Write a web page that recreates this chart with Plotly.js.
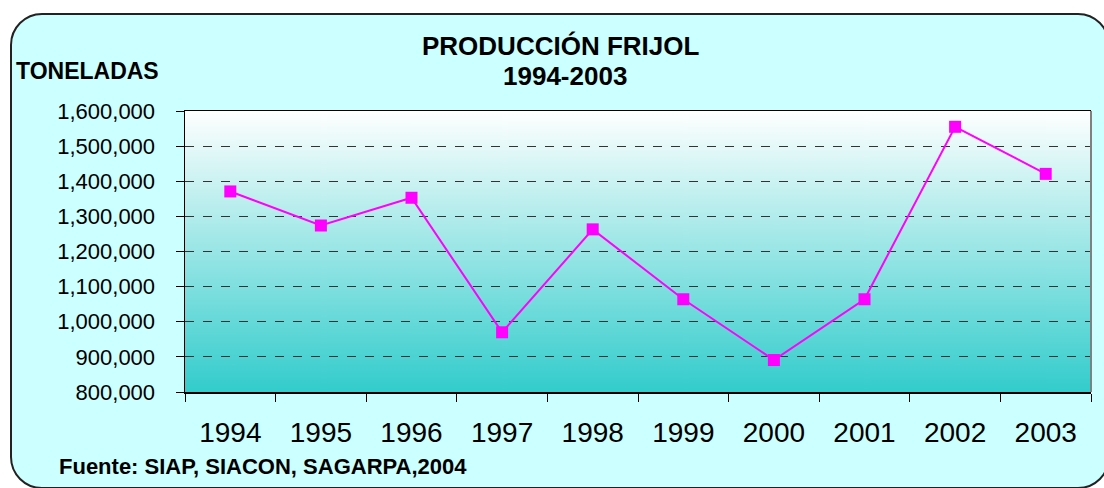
<!DOCTYPE html>
<html>
<head>
<meta charset="utf-8">
<script src="https://cdn.plot.ly/plotly-3.0.1.min.js"></script>
<style>
  html, body { margin: 0; padding: 0; background: #ffffff; width: 1104px; height: 488px; overflow: hidden; }
  #frame { position: absolute; left: 10px; top: 13px; width: 1096px; height: 472px;
           border: 2px solid #222; border-radius: 32px; background: #CCFFFF; }
  #chart { position: absolute; left: 0; top: 0; width: 1104px; height: 488px; }
</style>
</head>
<body>
<div id="frame"></div>
<div id="chart"></div>
<script>
const years = ['1994','1995','1996','1997','1998','1999','2000','2001','2002','2003'];
const toneladas = [1371000, 1274000, 1353000, 970000, 1263000, 1064000, 891000, 1064000, 1555000, 1421000];
const yTickVals = [800000, 900000, 1000000, 1100000, 1200000, 1300000, 1400000, 1500000, 1600000];
const yTickText = ['800,000','900,000','1,000,000','1,100,000','1,200,000','1,300,000','1,400,000','1,500,000','1,600,000'];
const titleLines = ['PRODUCCIÓN FRIJOL', '1994-2003'];
const yLabel = 'TONELADAS';
const sourceNote = 'Fuente: SIAP, SIACON, SAGARPA,2004';

// vertical gradient for plot background
const cv = document.createElement('canvas');
cv.width = 10; cv.height = 300;
const cx = cv.getContext('2d');
const g = cx.createLinearGradient(0, 0, 0, 300);
g.addColorStop(0, '#FFFFFF');
g.addColorStop(1, '#33CCCC');
cx.fillStyle = g; cx.fillRect(0, 0, 10, 300);
const gradURI = cv.toDataURL('image/png');

const FONT = 'Liberation Sans, Arial, sans-serif';
const L = 185, PW = 906, T = 111, PH = 281;
const px = v => (v - L) / PW;          // pixel x -> paper
const py = v => (T + PH - v) / PH;     // pixel y -> paper

const trace = {
  x: years, y: toneladas, type: 'scatter', mode: 'lines+markers',
  line: { color: '#FF00FF', width: 2 },
  marker: { symbol: 'square', size: 12, color: '#FF00FF' },
  hoverinfo: 'skip', showlegend: false
};

const layout = {
  width: 1104, height: 488,
  margin: { l: 185, r: 13, t: 111, b: 96 },
  paper_bgcolor: 'rgba(0,0,0,0)',
  plot_bgcolor: 'rgba(0,0,0,0)',
  xaxis: {
    type: 'category', range: [-0.5, 9.5], tickson: 'boundaries',
    ticks: 'outside', ticklen: 8, tickcolor: '#000', tickwidth: 1,
    showline: true, linecolor: '#000', linewidth: 1.5, mirror: true,
    showgrid: false, zeroline: false,
    tickfont: { family: FONT, size: 28, color: '#000' },
    ticklabelstandoff: 15
  },
  yaxis: {
    range: [800000, 1600000], tickvals: yTickVals, ticktext: yTickText,
    ticks: 'outside', ticklen: 8, tickcolor: '#000', tickwidth: 1,
    showline: true, linecolor: '#000', linewidth: 1.5,
    showgrid: true, gridcolor: '#333333', griddash: 'dash', gridwidth: 1,
    zeroline: false,
    tickfont: { family: FONT, size: 22, color: '#000' },
    ticklabelstandoff: 16
  },
  images: [{
    source: gradURI, xref: 'paper', yref: 'paper', x: 0, y: 1, sizex: 1, sizey: 1,
    xanchor: 'left', yanchor: 'top', sizing: 'stretch', layer: 'below'
  }],
  shapes: [
    { type: 'line', xref: 'paper', yref: 'paper', x0: 1, x1: 1, y0: 0, y1: 1,
      line: { color: '#808080', width: 2 } }
  ],
  annotations: [
    { text: '<b>' + titleLines[0] + '</b>', xref: 'paper', yref: 'paper', x: px(560), y: py(46),
      xanchor: 'center', yanchor: 'middle', showarrow: false,
      font: { family: FONT, size: 26, color: '#000' } },
    { text: '<b>' + titleLines[1] + '</b>', xref: 'paper', yref: 'paper', x: px(565), y: py(76),
      xanchor: 'center', yanchor: 'middle', showarrow: false,
      font: { family: FONT, size: 26, color: '#000' } },
    { text: '<b>' + yLabel + '</b>', xref: 'paper', yref: 'paper', x: px(14), y: py(71),
      xanchor: 'left', yanchor: 'middle', showarrow: false,
      font: { family: FONT, size: 23, color: '#000' } },
    { text: '<b>' + sourceNote + '</b>', xref: 'paper', yref: 'paper', x: px(57), y: py(466),
      xanchor: 'left', yanchor: 'middle', showarrow: false,
      font: { family: FONT, size: 22, color: '#000' } }
  ]
};

Plotly.newPlot('chart', [trace], layout, { staticPlot: true, displayModeBar: false });
</script>
</body>
</html>
